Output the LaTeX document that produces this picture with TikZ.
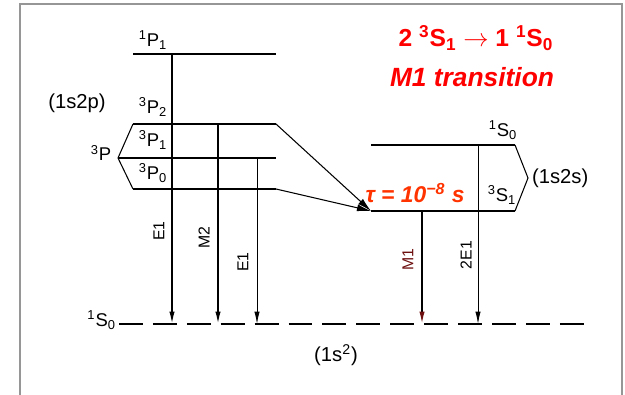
\documentclass[tikz,border=0pt]{standalone}
\usepackage{fontspec}
\setmainfont{Liberation Sans}
\usetikzlibrary{positioning,calc,arrows.meta}
\definecolor{titlered}{RGB}{255,0,0}
\definecolor{taured}{RGB}{255,51,0}
\definecolor{mlred}{RGB}{110,15,15}
\definecolor{framegray}{RGB}{150,150,150}
\newcommand{\term}[3]{\textsuperscript{#1}#2\textsubscript{#3}}

\begin{document}
\begin{tikzpicture}[
    x=0.02cm, y=-0.02cm,
    level/.style={line width=1.7pt},
    sublevel/.style={line width=1.1pt},
    bracket/.style={line width=0.6pt},
    trans/.style={-{Latex[length=7pt, width=3pt]}, line width=0.9pt},
    thintrans/.style={-{Latex[length=7pt, width=3pt]}, line width=0.5pt},
    feed/.style={-{Latex[length=8pt, width=4pt]}, line width=0.6pt},
    groundline/.style={line width=1.3pt, dash pattern=on 13.6pt off 5.7pt},
    termlab/.style={font=\fontsize{10.5}{12}\selectfont, inner sep=1pt},
    conflab/.style={font=\fontsize{11.5}{13}\selectfont, inner sep=1pt},
    translab/.style={font=\fontsize{9}{10}\selectfont, rotate=90, inner sep=1pt},
]
\useasboundingbox (0,0) rectangle (625,395);
% frame
\draw[framegray, line width=1.3pt] (20,395) -- (20,4) -- (622,4) -- (622,395);

% 1s2p levels
\coordinate (p1l) at (133,54);  \coordinate (p1r) at (276,54);
\coordinate (p2l) at (133,124); \coordinate (p2r) at (276,124);
\coordinate (q1l) at (118,158); \coordinate (q1r) at (276,158);
\coordinate (q0l) at (133,189); \coordinate (q0r) at (276,189);
\draw[level] (p1l) -- (p1r);
\draw[sublevel] (p2l) -- (p2r);
\draw[sublevel] (q1l) -- (q1r);
\draw[sublevel] (q0l) -- (q0r);
\draw[bracket] (p2l) -- (q1l) -- (q0l);
\node[termlab] (t1p1) at (153,40) {\term{1}{P}{1}};
\node[termlab] (t3p2) at (153,107) {\term{3}{P}{2}};
\node[termlab] (t3p1) at (153,140) {\term{3}{P}{1}};
\node[termlab] (t3p0) at (153,173) {\term{3}{P}{0}};
\node[termlab] (t3p) at (101,153) {\textsuperscript{3}P};
\node[conflab] (c1s2p) at (77,103) {(1s2p)};

% 1s2s levels
\coordinate (s0l) at (371,145); \coordinate (s0r) at (515,145);
\coordinate (s1l) at (371,211); \coordinate (s1r) at (515,211);
\coordinate (stip) at (528,178);
\draw[level] (s0l) -- (s0r);
\draw[level] (s1l) -- (s1r);
\draw[bracket] (s0r) -- (stip) -- (s1r);
\node[termlab] (t1s0) at (503,130) {\term{1}{S}{0}};
\node[termlab] (t3s1) at (502,195) {\term{3}{S}{1}};
\node[conflab, anchor=west] (c1s2s) at (530,178) {(1s2s)};

% ground level
\coordinate (gl) at (119,324); \coordinate (gr) at (590,324);
\draw[groundline] (gl) -- (gr);
\node[termlab, anchor=east] (tg) at (118,320) {\term{1}{S}{0}};
\node[conflab] (c1s) at (336,355) {(1s\textsuperscript{2})};

% decays to ground
\coordinate (a1) at (172,54);  \coordinate (g1) at (172,324);
\coordinate (a2) at (218,124); \coordinate (g2) at (218,324);
\coordinate (a3) at (257,158); \coordinate (g3) at (257,324);
\coordinate (a4) at (422,211); \coordinate (g4) at (422,324);
\coordinate (a5) at (478,145); \coordinate (g5) at (478,324);
\draw[trans] (a1) -- (g1);
\draw[trans] (a2) -- (g2);
\draw[thintrans] (a3) -- (g3);
\draw[line width=0.9pt, -{Latex[length=7pt, width=3pt, fill=mlred, color=mlred]}] (a4) -- (g4);
\draw[thintrans] (a5) -- (g5);
\node[translab] (le1) at (159,231) {E1};
\node[translab] (lm2) at (204,238) {M2};
\node[translab] (le1b) at (243,262) {E1};
\node[translab, text=mlred] (lm1) at (408,260) {M1};
\node[translab] (l2e1) at (466,255) {2E1};

% feeding of 2 3S1
\draw[feed] (p2r) -- (s1l);
\draw[feed] (q0r) -- (s1l);

% red labels
\node[taured, font=\fontsize{13}{15}\selectfont\bfseries\itshape] (tau) at (415,193) {τ = 10\textsuperscript{\textminus8} s};
\node[titlered, font=\fontsize{14}{16}\selectfont\bfseries] (title) at (476,38)
    {2 \textsuperscript{3}S\textsubscript{1} $\rightarrow$ 1 \textsuperscript{1}S\textsubscript{0}};
\node[titlered, font=\fontsize{15}{17}\selectfont\bfseries\itshape] (kind) at (472,77) {M1 transition};
\end{tikzpicture}
\end{document}
